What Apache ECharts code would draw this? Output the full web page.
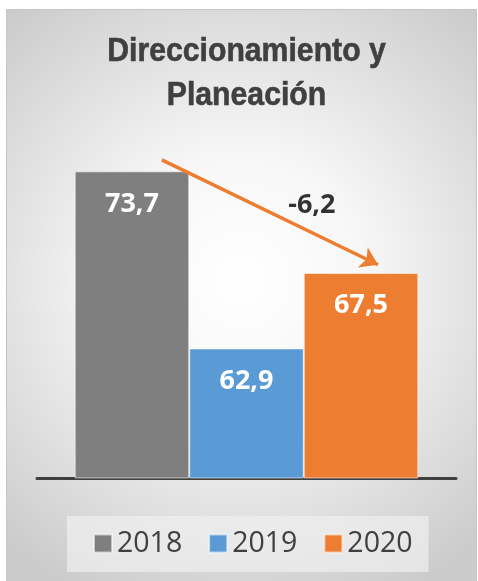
<!DOCTYPE html>
<html>
<head>
<meta charset="utf-8">
<script src="https://cdn.jsdelivr.net/npm/echarts@6/dist/echarts.min.js"></script>
<style>
html,body{margin:0;padding:0;background:#ffffff;}
#chart{width:478px;height:581px;}
</style>
</head>
<body>
<div id="chart"></div>
<script>
// ---- data ----
var chartTitle = 'Direccionamiento y\nPlaneación';
var category = ['Direccionamiento y Planeación'];
var years = ['2018', '2019', '2020'];
var values = [73.7, 62.9, 67.5];
var colors = ['#7F7F7F', '#5B9BD5', '#ED7D31'];
var yMin = 55, yMax = 75;

function fmt(v) { return v.toFixed(1).replace('.', ','); }
var delta = values[2] - values[0];

var chart = echarts.init(document.getElementById('chart'), null, {renderer: 'canvas'});

var barSeries = years.map(function (y, i) {
  return {
    name: y,
    type: 'bar',
    xAxisIndex: 0,
    yAxisIndex: 0,
    barGap: 0,
    barCategoryGap: '18%',
    data: [values[i]],
    itemStyle: { color: colors[i], borderColor: 'rgba(255,255,255,0.55)', borderWidth: 1 },
    label: {
      show: true,
      position: 'insideTop',
      distance: 19,
      formatter: function (p) { return fmt(p.value); },
      color: '#ffffff',
      fontFamily: 'Open Sans',
      fontWeight: 'bold',
      fontSize: 27
    },
    z: 2
  };
});

var option = {
  animation: false,
  backgroundColor: 'transparent',
  graphic: [{
    type: 'rect',
    z: -10,
    silent: true,
    shape: { x: 6.5, y: 9.5, width: 470, height: 575 },
    style: {
      fill: new echarts.graphic.RadialGradient(0.5, 0.47, 0.75, [
        { offset: 0, color: '#ffffff' },
        { offset: 0.35, color: '#f7f7f7' },
        { offset: 1, color: '#cbcbcb' }
      ]),
      stroke: '#c6c6c6',
      lineWidth: 1
    }
  }, {
    type: 'text',
    silent: true,
    x: 246.5,
    y: 30,
    scaleX: 0.915,
    z: 10,
    style: {
      text: chartTitle,
      fontFamily: '"Liberation Sans", Arial',
      fontWeight: 'bold',
      fontSize: 33,
      lineHeight: 44,
      fill: '#404040',
      stroke: '#404040',
      lineWidth: 0.6,
      align: 'center',
      verticalAlign: 'top',
      textAlign: 'center',
      textVerticalAlign: 'top'
    }
  }],
  legend: {
    data: years,
    left: 67,
    top: 516,
    padding: [13, 16, 14, 26],
    itemWidth: 18,
    itemHeight: 18,
    itemGap: 26,
    backgroundColor: 'rgba(240,240,240,0.7)',
    icon: 'rect',
    textStyle: {
      fontFamily: 'Open Sans',
      fontSize: 28.5,
      lineHeight: 28,
      color: '#404040'
    }
  },
  grid: { left: 37, right: 22, top: 150, bottom: 103, containLabel: false },
  xAxis: [{
    type: 'category',
    data: category,
    axisLine: { show: true, lineStyle: { color: '#3f3f3f', width: 3 } },
    axisTick: { show: false },
    axisLabel: { show: false },
    splitLine: { show: false }
  }, {
    type: 'value',
    min: 0,
    max: 1,
    show: false
  }],
  yAxis: [{
    type: 'value',
    min: yMin,
    max: yMax,
    show: false,
    splitLine: { show: false }
  }],
  series: barSeries.concat([
    {
      type: 'lines',
      coordinateSystem: 'cartesian2d',
      xAxisIndex: 1,
      yAxisIndex: 0,
      symbol: ['none', 'arrow'],
      symbolSize: 17,
      silent: true,
      lineStyle: { color: '#ED7D31', width: 3.5, opacity: 1 },
      data: [{ coords: [[0.298, values[0] + 0.7], [0.814, values[2] + 0.5]] }],
      z: 5
    },
    {
      type: 'scatter',
      xAxisIndex: 1,
      yAxisIndex: 0,
      symbolSize: 0,
      silent: true,
      data: [[0.656, (values[0] + values[2]) / 2 + 1]],
      label: {
        show: true,
        position: 'inside',
        formatter: function () { return fmt(delta); },
        color: '#000000',
        fontFamily: 'Open Sans',
        fontWeight: 'bold',
        fontSize: 27
      },
      z: 6
    }
  ])
};

chart.setOption(option);
</script>
</body>
</html>
